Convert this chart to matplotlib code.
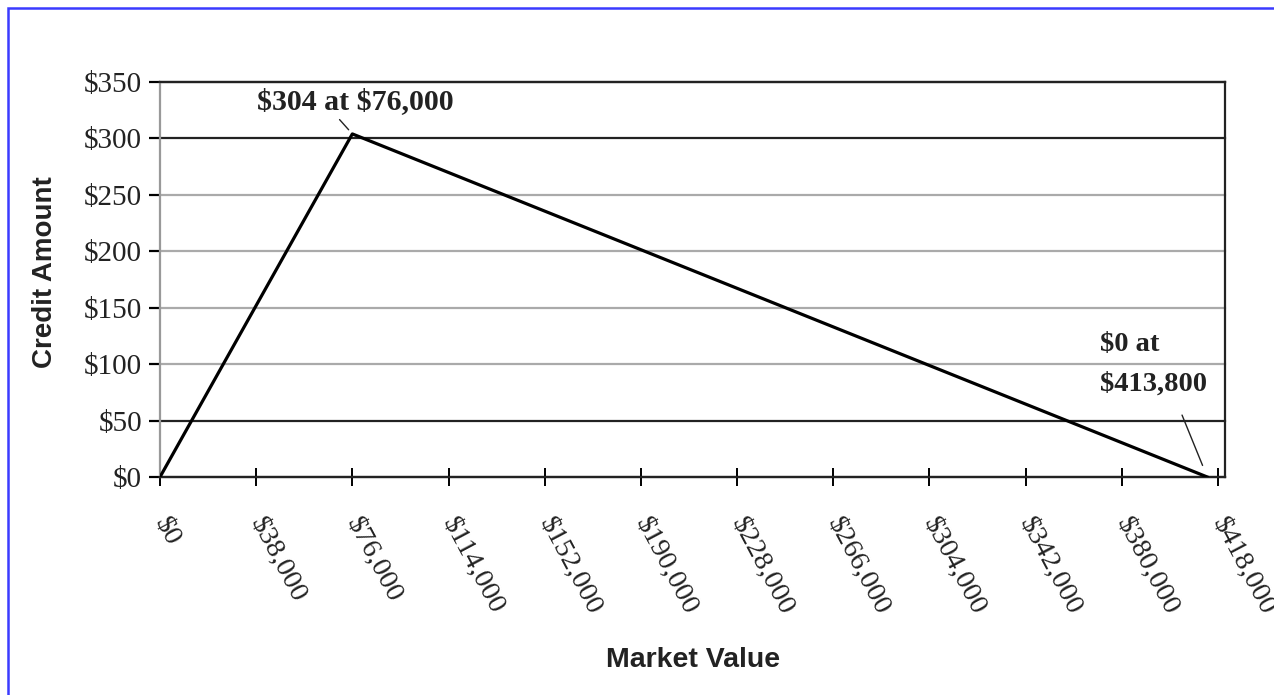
import matplotlib
matplotlib.use('Agg')
import matplotlib.pyplot as plt
from matplotlib.patches import Rectangle

# credit curve: rises to a peak, then falls to zero
market_value = [0, 76000, 413800]
credit_amount = [0, 304, 0]

x_ticks = [0, 38000, 76000, 114000, 152000, 190000, 228000, 266000, 304000, 342000, 380000, 418000]
y_ticks = [0, 50, 100, 150, 200, 250, 300, 350]
dark_grid = [0, 50, 300, 350]

fig = plt.figure(figsize=(12.74, 6.95), dpi=100)
fig.patch.set_facecolor('white')
# blue frame around the picture
fig.patches.append(Rectangle((8 / 1274, -0.05), 1.2, (695 - 8) / 695 + 0.05,
                             transform=fig.transFigure, fill=False,
                             edgecolor='#3b3bff', linewidth=1.8))

ax = fig.add_axes([160 / 1274, (695 - 477) / 695, 1065 / 1274, 395 / 695])
ax.plot(market_value, credit_amount, color='black', linewidth=2.3, zorder=3)

ax.set_xlim(0, 420800)
ax.set_ylim(0, 350)
ax.set_xticks(x_ticks)
ax.set_yticks(y_ticks)
ax.set_xticklabels(['\\${:,}'.format(v) for v in x_ticks], rotation=-62,
                   ha='left', va='center', rotation_mode='anchor',
                   fontfamily='Liberation Serif', fontsize=20.5, color='#222222')
ax.set_yticklabels(['\\${}'.format(v) for v in y_ticks],
                   fontfamily='Liberation Serif', fontsize=21, color='#222222')

# horizontal grid lines, some dark, some light
for v in y_ticks:
    c = '#222222' if v in dark_grid else '#aaaaaa'
    ax.axhline(v, color=c, linewidth=1.6, zorder=1, clip_on=False)
for t, v in zip(ax.yaxis.get_major_ticks(), y_ticks):
    t.tick1line.set_color('#222222' if v in dark_grid else '#aaaaaa')

ax.tick_params(axis='y', length=8, width=1.6, pad=5)
ax.tick_params(axis='x', direction='inout', length=13, width=1.4, pad=24)

ax.spines['left'].set_color('#999999')
ax.spines['left'].set_linewidth(1.6)
for s in ['top', 'right', 'bottom']:
    ax.spines[s].set_color('#222222')
    ax.spines[s].set_linewidth(1.6)

ax.annotate('\\$304 at \\$76,000', xy=(76000, 304), xytext=(77000, 321),
            ha='center', va='bottom', fontfamily='Liberation Serif',
            fontweight='bold', fontsize=21.5, color='#222222',
            arrowprops=dict(arrowstyle='-', color='#222222', lw=1.0,
                            relpos=(0.4, 0), shrinkA=2, shrinkB=4))
ax.annotate('\\$0 at\n\\$413,800', xy=(413800, 0), xytext=(371300, 71),
            ha='left', va='bottom', fontfamily='Liberation Serif',
            fontweight='bold', fontsize=20.5, color='#222222', linespacing=1.8,
            arrowprops=dict(arrowstyle='-', color='#222222', lw=1.0,
                            relpos=(0.7, 0), shrinkA=12, shrinkB=9))

fig.text(45 / 1274, 1 - 272 / 695, 'Credit Amount', rotation=90, ha='center', va='center',
         fontfamily='Liberation Sans', fontweight='bold', fontsize=20, color='#222222')
fig.text(693 / 1274, 1 - 660 / 695, 'Market Value', ha='center', va='center',
         fontfamily='Liberation Sans', fontweight='bold', fontsize=20.5, color='#222222')

fig.savefig('out.png', dpi=100, facecolor='white')
